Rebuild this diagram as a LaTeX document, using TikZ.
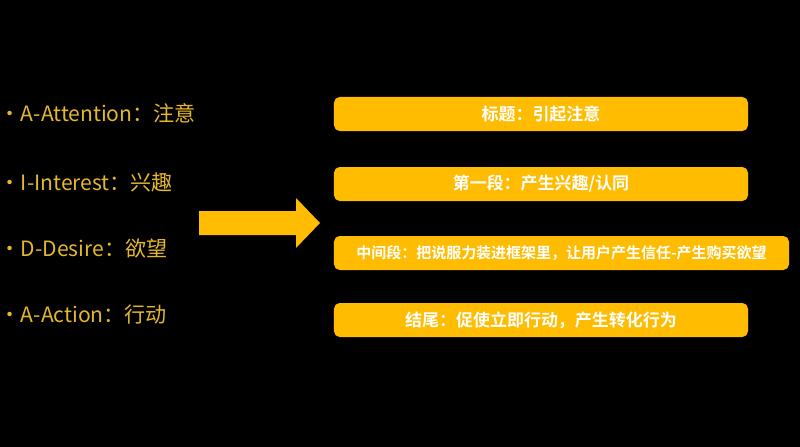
\documentclass[tikz,border=0pt]{standalone}
\usepackage{fontspec}
\setmainfont{Noto Sans CJK SC}[BoldFont={Noto Sans CJK SC Bold}]
\begin{document}
\begin{tikzpicture}[
            x=0.03cm, y=-0.03cm,
            item/.style={anchor=west, inner sep=0pt, text=itemgold,
                font=\fontsize{18pt}{21pt}\selectfont},
            stagebox/.style={fill=boxgold, rounded corners=0.17cm, minimum height=1.02cm,
                inner sep=0pt, text=white, font=\fontsize{14.5pt}{17pt}\selectfont\bfseries}
        ]
            \definecolor{boxgold}{RGB}{255,188,0}
            \definecolor{itemgold}{RGB}{228,184,44}
            \useasboundingbox (0, 0) rectangle (800, 447);
            \fill[black] (0, 0) rectangle (800, 447);

            \node[item] (attention) at (-1, 113) {\textbullet\kern0.5pt A-Attention：注意};
            \node[item] (interest) at (-1, 182) {\textbullet\kern0.5pt I-Interest：兴趣};
            \node[item] (desire) at (-1, 248) {\textbullet\kern0.5pt D-Desire：欲望};
            \node[item] (action) at (-1, 315) {\textbullet\kern0.5pt A-Action：行动};

            \fill[boxgold] (199, 211) -- (296, 211) -- (296, 198) -- (320, 223)
                -- (296, 248) -- (296, 235) -- (199, 235) -- cycle;

            \node[stagebox, minimum width=12.42cm] (title) at (541, 114) {标题：引起注意};
            \node[stagebox, minimum width=12.42cm] (first) at (541, 184) {第一段：产生兴趣/认同};
            \node[stagebox, minimum width=13.65cm, font=\fontsize{12.8pt}{15pt}\selectfont\bfseries] (middle) at (561.5, 253) {中间段：把说服力装进框架里，让用户产生信任-产生购买欲望};
            \node[stagebox, minimum width=12.42cm] (ending) at (541, 320) {结尾：促使立即行动，产生转化行为};

        \end{tikzpicture}
\end{document}
